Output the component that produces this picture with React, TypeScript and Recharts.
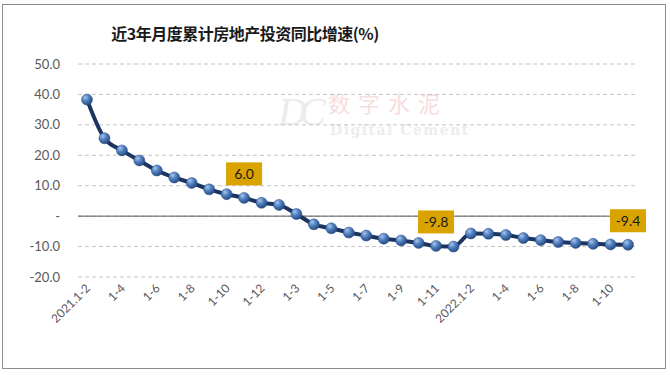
import React from "react";
import {
  LineChart,
  Line,
  XAxis,
  YAxis,
  CartesianGrid,
  ReferenceLine,
  LabelList,
} from "recharts";

// months as printed on the axis (the source labels years oddly, kept as-is)
const categories = [
  "2021.1-2", "1-3", "1-4", "1-5", "1-6", "1-7", "1-8", "1-9", "1-10", "1-11", "1-12",
  "1-2", "1-3", "1-4", "1-5", "1-6", "1-7", "1-8", "1-9", "1-10", "1-11", "1-12",
  "2022.1-2", "1-3", "1-4", "1-5", "1-6", "1-7", "1-8", "1-9", "1-10", "1-11",
];

const growth = [
  38.3, 25.6, 21.6, 18.3, 15.0, 12.7, 10.9, 8.8, 7.2, 6.0, 4.4,
  3.7, 0.7, -2.7, -4.0, -5.4, -6.4, -7.4, -8.0, -8.8, -9.8, -10.0,
  -5.7, -5.8, -6.2, -7.2, -7.9, -8.5, -8.8, -9.1, -9.3, -9.4,
];

// points that get a callout box
const labelledIdx = [9, 20, 31];

const yTicks = [-20, -10, 0, 10, 20, 30, 40, 50];

const data = categories.map((label, i) => ({
  id: i,
  label,
  value: growth[i],
}));

const tickFont = "Lato, 'Liberation Sans', sans-serif";

const XTick = (props: any) => {
  const { x, y, payload, index } = props;
  if (index % 2 !== 0) return null;
  const ax = x + 4;
  const ay = y + 4;
  return (
    <text
      x={ax}
      y={ay}
      transform={`rotate(-45, ${ax}, ${ay})`}
      textAnchor="end"
      fontSize={12}
      fontFamily={tickFont}
      fill="#595959"
    >
      {categories[payload.value]}
    </text>
  );
};

const Callout = (props: any) => {
  const { x, y, index, value } = props;
  if (!labelledIdx.includes(index)) return null;
  const w = 36;
  const h = 23;
  const cy = y - 24;
  return (
    <g>
      <rect x={x - w / 2} y={cy - h / 2} width={w} height={h} fill="#D9A300" />
      <text
        x={x}
        y={cy + 5}
        textAnchor="middle"
        fontSize={14}
        fontFamily={tickFont}
        fill="#1a1a1a"
      >
        {Number(value).toFixed(1)}
      </text>
    </g>
  );
};

export default function App() {
  return (
    <div
      style={{
        position: "absolute",
        left: 0,
        top: 0,
        width: 670,
        height: 375,
        background: "#fff",
      }}
    >
      {/* outer frame */}
      <div
        style={{
          position: "absolute",
          left: 2,
          top: 4,
          width: 662,
          height: 363,
          border: "1px solid #8c8c8c",
        }}
      />

      {/* faint watermark */}
      <div
        style={{
          position: "absolute",
          left: 278,
          top: 92,
          lineHeight: "40px",
          fontFamily: "'Liberation Serif', serif",
          fontStyle: "italic",
          fontSize: 40,
          color: "#ececec",
          letterSpacing: -8,
        }}
      >
        DC
      </div>
      <div
        style={{
          position: "absolute",
          left: 328,
          top: 91,
          lineHeight: "22px",
          fontFamily: "'Noto Sans CJK SC', sans-serif",
          fontSize: 22,
          color: "#f6dede",
          letterSpacing: 8,
        }}
      >
        数字水泥
      </div>
      <div
        style={{
          position: "absolute",
          left: 330,
          top: 123,
          lineHeight: "15px",
          fontFamily: "'DejaVu Serif', serif",
          fontWeight: "bold",
          fontSize: 14,
          color: "#ededed",
          letterSpacing: 1.5,
        }}
      >
        Digital Cement
      </div>

      <div
        style={{
          position: "absolute",
          left: 0,
          top: 21,
          width: 490,
          textAlign: "center",
          fontFamily: "'Noto Sans CJK SC', sans-serif",
          fontWeight: "bold",
          fontSize: 16,
          letterSpacing: -0.5,
          color: "#1a1a1a",
        }}
      >
        近3年月度累计房地产投资同比增速(%)
      </div>

      <div style={{ position: "absolute", left: 0, top: 0 }}>
        <LineChart
          width={670}
          height={375}
          data={data}
          margin={{ top: 64, right: 33, bottom: 38, left: 8 }}
        >
          <CartesianGrid
            vertical={false}
            stroke="#c4c4c4"
            strokeDasharray="4 3"
          />
          <XAxis
            dataKey="id"
            type="category"
            interval={0}
            tick={<XTick />}
            tickLine={false}
            axisLine={false}
            padding={{ left: 9, right: 9 }}
            height={60}
          />
          <YAxis
            domain={[-20, 50]}
            ticks={yTicks}
            width={70}
            tickLine={false}
            axisLine={false}
            tickMargin={12}
            tick={{ fontSize: 13, fontFamily: tickFont, fill: "#595959" }}
            tickFormatter={(v: number) => (v === 0 ? "-" : v.toFixed(1))}
          />
          <ReferenceLine y={0} stroke="#595959" strokeWidth={1} />
          <defs>
            <radialGradient id="ball" cx="35%" cy="30%" r="75%">
              <stop offset="0%" stopColor="#a9c4ea" />
              <stop offset="45%" stopColor="#4f7fc0" />
              <stop offset="100%" stopColor="#24467c" />
            </radialGradient>
          </defs>
          <Line
            type="monotone"
            dataKey="value"
            stroke="#1b3560"
            strokeWidth={4}
            dot={{ r: 5.5, fill: "url(#ball)", stroke: "#2a4d85", strokeWidth: 0.5 }}
            activeDot={false}
            isAnimationActive={false}
          >
            <LabelList dataKey="value" content={<Callout />} />
          </Line>
        </LineChart>
      </div>
    </div>
  );
}
